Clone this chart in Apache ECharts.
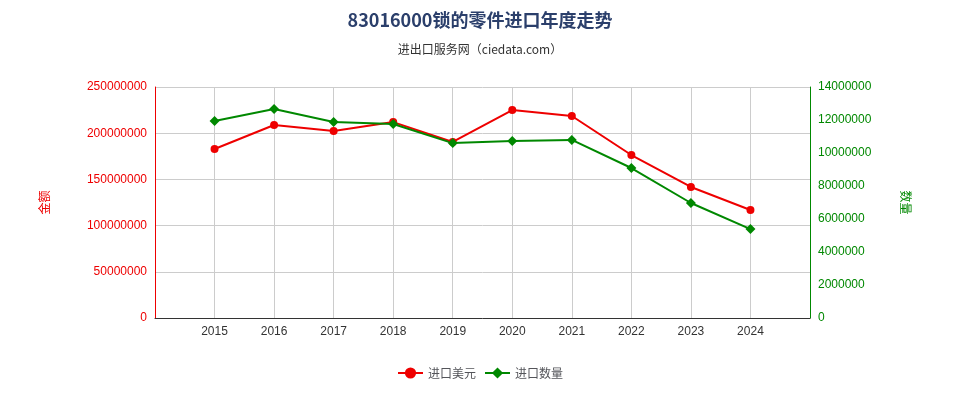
<!DOCTYPE html><html><head><meta charset="utf-8"><script src="https://cdn.jsdelivr.net/npm/echarts@6/dist/echarts.min.js"></script></head><body style="margin:0"><div id="c" style="width:960px;height:400px"></div><script>
const years=['','2015','2016','2017','2018','2019','2020','2021','2022','2023','2024',''];
const usd=[null,182.9e6,208.9e6,202.4e6,212e6,190.5e6,225e6,218.6e6,176.4e6,141.8e6,116.9e6,null];
const qty=[null,11.94e6,12.67e6,11.88e6,11.76e6,10.6e6,10.73e6,10.79e6,9.09e6,6.97e6,5.39e6,null];
const f='"Noto Sans CJK SC",sans-serif';
const fmt=v=>String(v);
echarts.init(document.getElementById('c')).setOption({
title:{text:'83016000锁的零件进口年度走势',subtext:'进出口服务网（ciedata.com）',left:'center',top:6,textStyle:{fontSize:18,fontWeight:'bold',color:'#2b3f6b',fontFamily:f},subtextStyle:{fontSize:12,color:'#333',fontFamily:f},itemGap:14},
grid:{left:155,right:150,top:87,bottom:82},
legend:{bottom:16,data:['进口美元','进口数量'],textStyle:{fontFamily:f,fontSize:12}},
xAxis:{type:'category',data:years,boundaryGap:false,axisTick:{show:false},splitLine:{show:true,lineStyle:{color:'#ccc'}},axisLine:{lineStyle:{color:'#333'}},axisLabel:{color:'#333',fontSize:12}},
yAxis:[{type:'value',min:0,max:250000000,interval:50000000,name:'金额',nameLocation:'middle',nameGap:105,nameTextStyle:{color:'#e00',fontFamily:f},axisLine:{show:true,lineStyle:{color:'#e00'}},axisLabel:{color:'#e00',fontSize:12,formatter:fmt},splitLine:{lineStyle:{color:'#ccc'}}},
{type:'value',min:0,max:14000000,interval:2000000,name:'数量',nameLocation:'middle',nameGap:90,nameRotate:270,nameTextStyle:{color:'#080',fontFamily:f},axisLine:{show:true,lineStyle:{color:'#080'}},axisLabel:{color:'#080',fontSize:12,formatter:fmt},splitLine:{show:false}}],
series:[{name:'进口美元',type:'line',data:usd,color:'#e00',symbol:'circle',symbolSize:8,lineStyle:{width:2}},
{name:'进口数量',type:'line',yAxisIndex:1,data:qty,color:'#080',symbol:'diamond',symbolSize:10,lineStyle:{width:2}}]});
</script></body></html>
